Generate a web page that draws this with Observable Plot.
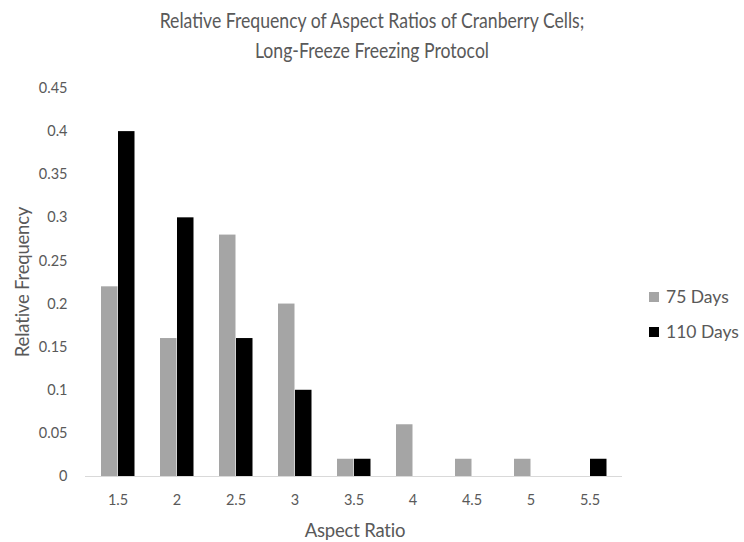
<!DOCTYPE html>
<html><head><meta charset="utf-8">
<script src="https://cdn.jsdelivr.net/npm/d3@7"></script>
<script src="https://cdn.jsdelivr.net/npm/@observablehq/plot@0.6"></script>
<style>
body{margin:0;background:#fff;}
#wrap{position:relative;width:744px;height:542px;font-family:Lato,"Open Sans",sans-serif;color:#595959;}
#title{position:absolute;left:0;top:5px;width:744px;text-align:center;font-size:21.5px;line-height:30px;transform:scaleX(0.82);transform-origin:372px 0;}
.lab{position:absolute;font-size:18.5px;letter-spacing:-0.2px;}
#ylab{left:22px;top:282px;transform:translate(-50%,-50%) rotate(-90deg);white-space:nowrap;}
#xlab{left:355px;top:530px;transform:translate(-50%,-50%);white-space:nowrap;}
.leg{position:absolute;left:649px;font-size:17.5px;display:flex;align-items:center;white-space:nowrap;line-height:20px;}
.sw{width:10px;height:10px;margin-right:7px;}
</style></head>
<body><div id="wrap"></div>
<script>
const categories = ["1.5","2","2.5","3","3.5","4","4.5","5","5.5"];
const seriesNames = ["75 Days","110 Days"];
const days75 = [0.22,0.16,0.28,0.2,0.02,0.06,0.02,0.02,0];
const days110 = [0.4,0.3,0.16,0.1,0.02,0,0,0,0.02];
const yTicks = [0,0.05,0.1,0.15,0.2,0.25,0.3,0.35,0.4,0.45];
const colors = ["#a5a5a5","#000000"];

const d75 = categories.map((c,i)=>({cat:c, value:days75[i]}));
const d110 = categories.map((c,i)=>({cat:c, value:days110[i]}));

const chart = Plot.plot({
  width:744, height:542,
  marginTop:88, marginBottom:66, marginLeft:85, marginRight:122,
  style:{fontFamily:"Lato, 'Open Sans', sans-serif", fontSize:"14.5px", color:"#595959", background:"#fff"},
  x:{domain:categories, padding:0, label:null, tickSize:0, tickPadding:18},
  y:{domain:[0,0.45], ticks:yTicks, tickSize:0, tickPadding:18, label:null, tickFormat:d=>String(+d.toFixed(2))},
  marks:[
    Plot.ruleY([0],{stroke:"#d9d9d9", strokeWidth:1}),
    Plot.barY(d75,{x:"cat", y:"value", fill:colors[0], insetLeft:13, insetRight:29.5}),
    Plot.barY(d110,{x:"cat", y:"value", fill:colors[1], insetLeft:30, insetRight:12.5})
  ]
});
const wrap = document.getElementById("wrap");
wrap.appendChild(chart);
chart.style.position="absolute"; chart.style.left="0"; chart.style.top="0";
wrap.insertAdjacentHTML("beforeend",
 `<div id="title">Relative Frequency of Aspect Ratios of Cranberry Cells;<br>Long-Freeze Freezing Protocol</div>
  <div class="lab" id="ylab">Relative Frequency</div>
  <div class="lab" id="xlab">Aspect Ratio</div>` +
  seriesNames.map((s,i)=>`<div class="leg" style="top:${[287,322][i]}px"><div class="sw" style="background:${colors[i]}"></div>${s}</div>`).join(""));
</script></body></html>
